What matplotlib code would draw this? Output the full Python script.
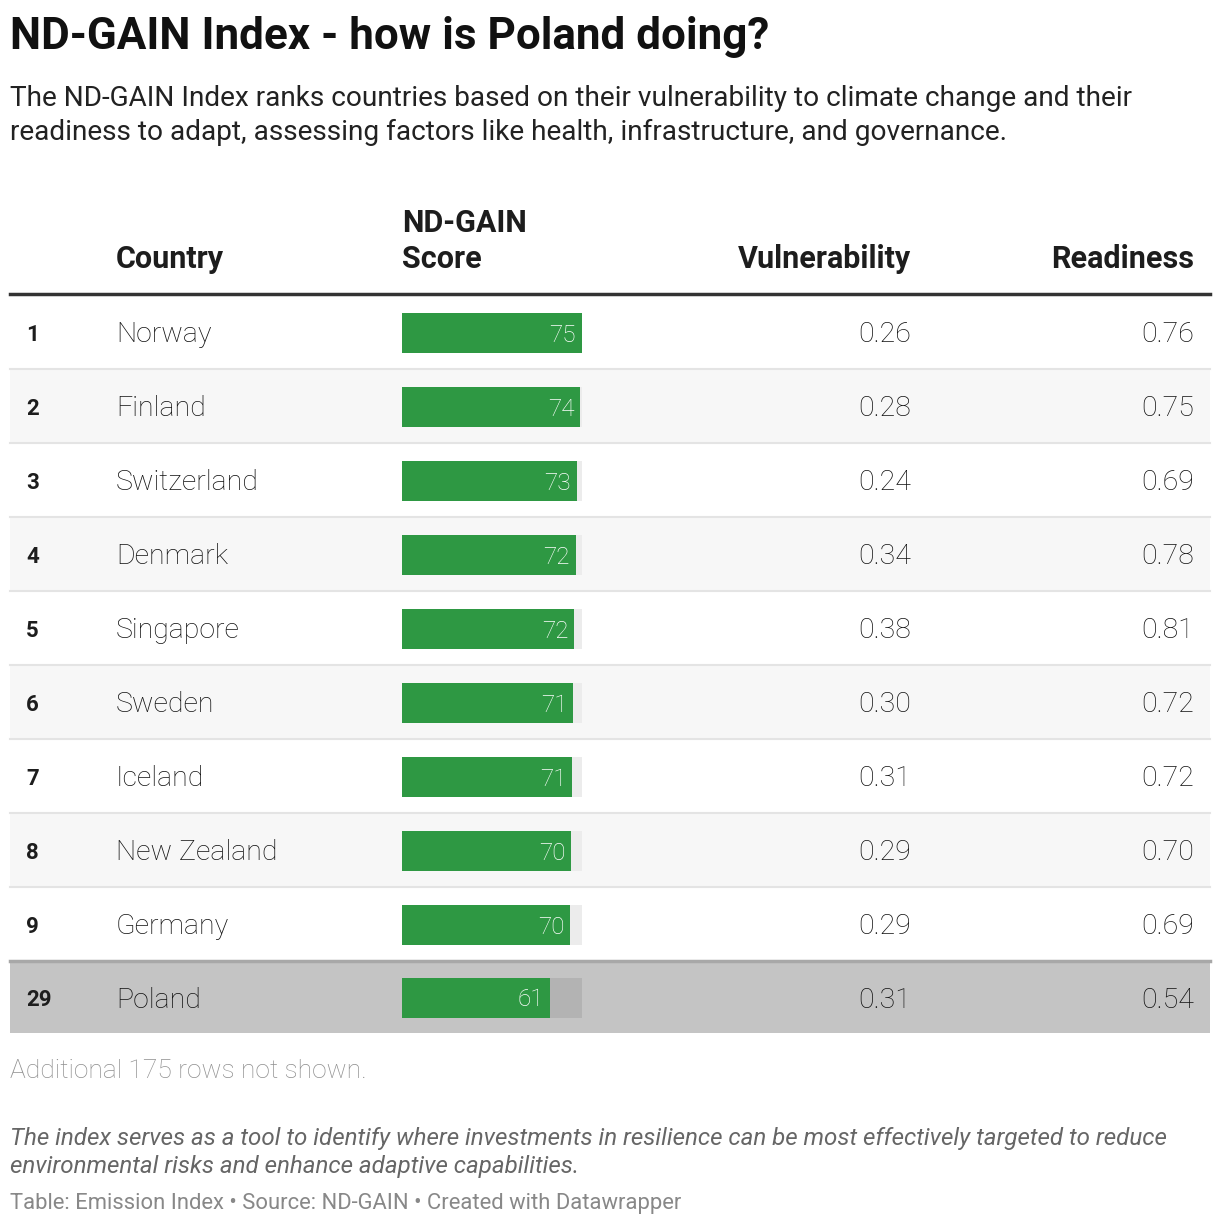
import matplotlib.pyplot as plt
from matplotlib.patches import Rectangle

# table data
ranks = ['1', '2', '3', '4', '5', '6', '7', '8', '9', '29']
countries = ['Norway', 'Finland', 'Switzerland', 'Denmark', 'Singapore',
             'Sweden', 'Iceland', 'New Zealand', 'Germany', 'Poland']
scores = [75, 74, 73, 72, 72, 71, 71, 70, 70, 61]
score_bars = [75.0, 74.3, 72.8, 72.3, 71.8, 71.4, 70.9, 70.5, 70.2, 61.6]
vulnerability = ['0.26', '0.28', '0.24', '0.34', '0.38', '0.30', '0.31', '0.29', '0.29', '0.31']
readiness = ['0.76', '0.75', '0.69', '0.78', '0.81', '0.72', '0.72', '0.70', '0.69', '0.54']
score_max = 75.0

W, H = 1220, 1226
plt.rcParams['font.family'] = ['Roboto', 'DejaVu Sans']

fig = plt.figure(figsize=(W / 100, H / 100), dpi=100)
ax = fig.add_axes([0, 0, 1, 1])
ax.set_xlim(0, W)
ax.set_ylim(H, 0)
ax.axis('off')

GREEN = '#2e9843'
DARK = '#1d1d1d'
BODY = '#111111'

# title + subtitle
ax.text(10, 37, 'ND-GAIN Index - how is Poland doing?', fontsize=31.7, fontweight='bold',
        color='#111111', va='center')
ax.text(10, 99, 'The ND-GAIN Index ranks countries based on their vulnerability to climate change and their',
        fontsize=20.2, color='#222222', va='center')
ax.text(10, 132, 'readiness to adapt, assessing factors like health, infrastructure, and governance.',
        fontsize=20.2, color='#222222', va='center')

# header
hdr = dict(fontsize=22, fontweight='bold', color=DARK, va='center')
ax.text(116, 259, 'Country', ha='left', **hdr)
ax.text(402, 223, 'ND-GAIN', ha='left', **hdr)
ax.text(402, 259, 'Score', ha='left', **hdr)
ax.text(911, 259, 'Vulnerability', ha='right', **hdr)
ax.text(1194, 259, 'Readiness', ha='right', **hdr)

# rows
top = 295
rh = 74
bar_x, bar_w, bar_h = 402, 180, 40
for i in range(len(countries)):
    y0 = top + i * rh
    poland = countries[i] == 'Poland'
    if poland:
        ax.add_patch(Rectangle((10, y0 - 1), 1200, rh - 1, color='#c4c4c4', lw=0))
        ax.plot([10, 1210], [y0, y0], color='#a8a8a8', lw=2.5)
        yc = y0 + (rh - 2) / 2 + 1
        track = '#b3b3b3'
    else:
        if i % 2 == 1:
            ax.add_patch(Rectangle((10, y0), 1200, rh, color='#f7f7f7', lw=0))
        if i < 8:
            ax.plot([10, 1210], [y0 + rh, y0 + rh], color='#e4e4e4', lw=1.5)
        yc = y0 + rh / 2 + 1
        track = '#ececec'
    ax.add_patch(Rectangle((bar_x, yc - bar_h / 2), bar_w, bar_h, color=track, lw=0))
    ax.add_patch(Rectangle((bar_x, yc - bar_h / 2), bar_w * score_bars[i] / score_max, bar_h,
                           color=GREEN, lw=0))
    ty = yc + 2
    ax.text(bar_x + bar_w * score_bars[i] / score_max - 6, ty, str(scores[i]), fontsize=17.5,
            fontweight='light', color='white', ha='right', va='center')
    ax.text(26, ty, ranks[i], fontsize=16, fontweight='bold', color=DARK, va='center')
    ax.text(116, ty, countries[i], fontsize=20.5, fontweight='light', color=BODY, va='center')
    ax.text(911, ty, vulnerability[i], fontsize=20.5, fontweight='light', color=BODY,
            ha='right', va='center')
    ax.text(1194, ty, readiness[i], fontsize=20.5, fontweight='light', color=BODY,
            ha='right', va='center')

ax.plot([10, 1210], [294, 294], color='#333333', lw=2.5)

# footer
ax.text(10, 1071, 'Additional 175 rows not shown.', fontsize=19, fontweight='light',
        color='#8f8f8f', va='center')
ax.text(10, 1139, 'The index serves as a tool to identify where investments in resilience can be most effectively targeted to reduce',
        fontsize=17.4, style='italic', color='#666666', va='center')
ax.text(10, 1167, 'environmental risks and enhance adaptive capabilities.',
        fontsize=17.4, style='italic', color='#666666', va='center')
ax.text(10, 1203, 'Table: Emission Index \u2022 Source: ND-GAIN \u2022 Created with Datawrapper',
        fontsize=15.85, color='#888888', va='center')

fig.savefig('out.png', dpi=100)
